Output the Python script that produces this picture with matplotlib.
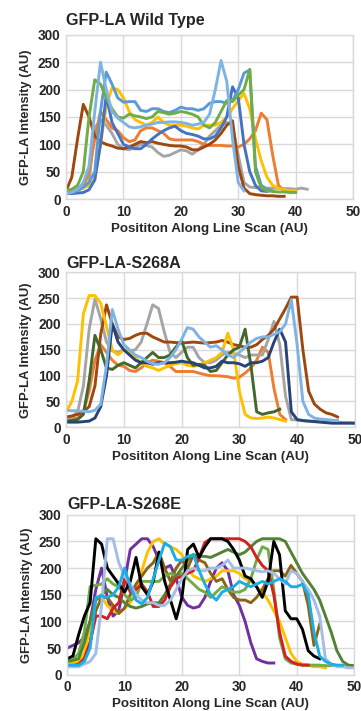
import numpy as np
import matplotlib
matplotlib.use("Agg")
import matplotlib.pyplot as plt

plt.rcParams['font.family'] = ['Liberation Sans', 'DejaVu Sans']
plt.rcParams['font.weight'] = 'bold'

# ---- data: intensities along each line scan (x = 0, 1, 2, ...) ----
# Wild type
wt_brown = [15, 40, 110, 173, 150, 115, 105, 100, 97, 93, 92, 95, 100, 105, 103, 105, 102, 100, 98, 97,
            97, 95, 90, 90, 95, 100, 108, 120, 135, 143, 60, 20, 10, 8, 7, 6, 6, 5, 5]
wt_green = [15, 18, 25, 50, 150, 218, 210, 185, 165, 150, 148, 155, 152, 150, 147, 150, 160, 158, 155, 157,
            160, 158, 155, 150, 135, 130, 140, 160, 180, 178, 190, 200, 237, 50, 20, 15, 14, 13, 13, 12, 12]
wt_lblue = [10, 12, 18, 30, 60, 160, 250, 200, 160, 148, 140, 132, 130, 132, 135, 137, 140, 140, 141, 141,
            140, 138, 135, 137, 140, 155, 200, 253, 215, 110, 30, 15]
wt_mblue = [10, 12, 15, 22, 30, 50, 160, 232, 210, 185, 177, 178, 178, 162, 160, 165, 165, 160, 158, 162,
            168, 165, 165, 162, 165, 175, 178, 178, 175, 180, 200, 230, 236, 60, 25, 18, 15]
wt_blue = [10, 10, 11, 12, 17, 35, 100, 190, 140, 120, 100, 95, 92, 92, 100, 110, 118, 125, 130, 133,
           125, 120, 118, 115, 110, 110, 115, 130, 150, 205, 185, 100, 50, 25, 15, 14]
wt_yellow = [12, 14, 17, 20, 25, 35, 100, 170, 203, 200, 185, 160, 145, 140, 135, 140, 150, 140, 135, 135,
             135, 133, 130, 128, 135, 135, 135, 140, 150, 165, 180, 193, 165, 110, 70, 40, 25, 20, 17, 15, 15]
wt_orange = [15, 17, 18, 20, 50, 110, 160, 145, 130, 125, 112, 105, 108, 125, 130, 130, 125, 120, 110, 108,
             108, 108, 108, 105, 100, 98, 98, 98, 97, 97, 95, 100, 110, 125, 157, 145, 80, 25, 15, 14]
wt_gray = [15, 16, 18, 22, 30, 130, 145, 135, 120, 100, 92, 90, 95, 100, 98, 95, 85, 78, 80, 85,
           90, 88, 82, 90, 100, 115, 125, 135, 140, 135, 80, 30, 22, 21, 20, 20, 20, 20, 19, 19, 18, 20, 18]

# S268A
a_yellow = [30, 50, 90, 220, 255, 255, 240, 195, 150, 140, 150, 145, 135, 125, 118, 115, 110, 115, 120, 123,
            125, 120, 118, 120, 125, 130, 135, 145, 182, 150, 70, 25, 18, 17, 18, 20, 18, 15, 12]
a_gray = [15, 20, 30, 80, 190, 248, 210, 165, 148, 145, 150, 148, 150, 165, 200, 237, 230, 185, 145, 135,
          145, 155, 155, 135, 125, 125, 130, 140, 145, 143, 140, 135, 140, 140, 140, 170, 205, 160, 60, 15,
          14, 13, 12, 12, 11, 11, 10, 10, 9, 9, 8]
a_brown = [20, 22, 25, 30, 40, 80, 180, 237, 200, 175, 170, 172, 178, 182, 182, 175, 170, 165, 165, 164,
           163, 164, 165, 164, 163, 164, 165, 168, 165, 160, 158, 155, 155, 160, 170, 178, 190, 210, 230, 252,
           252, 150, 70, 45, 35, 28, 25, 20]
a_green = [12, 13, 15, 25, 90, 178, 150, 115, 112, 120, 125, 120, 115, 125, 135, 145, 135, 135, 140, 155,
           168, 135, 120, 122, 120, 108, 110, 125, 140, 150, 155, 190, 120, 30, 25, 28, 30, 35]
a_dblue = [10, 10, 10, 11, 12, 18, 40, 100, 200, 165, 150, 140, 130, 125, 125, 122, 125, 125, 125, 126,
           128, 126, 125, 120, 115, 115, 118, 128, 125, 125, 123, 118, 125, 125, 128, 135, 165, 190, 165, 30,
           15, 13, 12, 11, 10, 9, 8, 8, 8, 8, 8]
a_lblue = [33, 32, 32, 31, 30, 33, 45, 120, 228, 190, 160, 150, 140, 135, 128, 123, 122, 125, 135, 150,
           170, 193, 190, 175, 165, 155, 158, 150, 140, 135, 145, 155, 165, 172, 175, 175, 180, 185, 200, 247,
           160, 50, 25, 18, 16, 15, 14, 13]
a_orange = [15, 17, 18, 30, 70, 130, 160, 145, 130, 120, 118, 110, 108, 115, 125, 130, 128, 125, 118, 108,
            108, 108, 108, 105, 102, 100, 100, 99, 98, 95, 97, 105, 115, 130, 155, 145, 75, 25, 15]

# S268E
e_black = [30, 35, 75, 110, 135, 255, 245, 200, 185, 170, 155, 175, 220, 165, 150, 175, 230, 175, 140, 105,
           145, 235, 245, 220, 240, 255, 255, 255, 250, 235, 215, 185, 180, 165, 145, 175, 250, 225, 120, 105,
           105, 85, 45, 35, 30]
e_peri = [15, 15, 15, 20, 25, 40, 130, 255, 255, 210, 185, 170, 150, 140, 135, 135, 130, 130, 140, 160,
          180, 195, 200, 195, 195, 200, 200, 205, 215, 200, 200, 200, 198, 195, 193, 195, 190, 180, 170, 195,
          190, 175, 160, 140, 110, 30, 20, 15, 15, 13, 13]
e_purple = [50, 55, 60, 70, 100, 160, 200, 145, 110, 120, 175, 235, 245, 255, 255, 240, 215, 200, 205, 180,
            145, 130, 125, 128, 145, 175, 200, 210, 195, 150, 130, 100, 60, 30, 25, 22, 22]
e_yellow = [20, 22, 25, 40, 90, 140, 145, 130, 120, 115, 125, 135, 155, 195, 230, 250, 255, 245, 240, 235,
            225, 200, 185, 180, 175, 180, 185, 195, 195, 195, 190, 180, 175, 165, 155, 140, 120, 100, 70, 40,
            25, 20, 18, 15, 15, 13]
e_olive = [15, 16, 18, 30, 60, 120, 145, 145, 130, 115, 125, 150, 170, 185, 200, 210, 230, 200, 175, 200,
           215, 200, 225, 215, 210, 190, 175, 180, 160, 145, 140, 140, 135, 145, 160, 180, 195, 195, 185, 205,
           190, 175, 130, 55, 95]
e_lgreen = [25, 28, 40, 80, 165, 168, 170, 180, 170, 165, 150, 140, 145, 175, 175, 175, 175, 185, 190, 185,
            190, 180, 170, 160, 155, 145, 155, 165, 160, 155, 155, 160, 180, 215, 240, 235, 160, 70, 30, 22,
            20, 18, 18, 18, 18, 17, 17, 17, 17, 17, 17]
e_dgreen = [25, 27, 30, 60, 100, 140, 150, 160, 150, 145, 135, 128, 125, 128, 133, 135, 135, 150, 170, 185,
            200, 215, 225, 222, 222, 220, 225, 230, 235, 230, 225, 230, 240, 250, 255, 255, 255, 255, 250, 230,
            210, 190, 175, 160, 140, 110, 80, 45, 25, 18, 17]
e_red = [15, 17, 20, 30, 60, 110, 110, 105, 125, 135, 180, 155, 160, 170, 155, 128, 128, 140, 165, 180,
         185, 190, 195, 220, 248, 255, 255, 255, 255, 255, 255, 250, 240, 220, 205, 195, 150, 80, 35, 25,
         20, 18, 18]
e_cyan = [18, 18, 18, 25, 50, 145, 148, 145, 150, 165, 200, 165, 140, 133, 145, 180, 215, 247, 240, 215,
          215, 222, 225, 195, 170, 150, 140, 155, 160, 165, 175, 170, 165, 170, 175, 170, 175, 180, 175, 165,
          165, 170, 150, 80, 35, 25, 20, 18, 18]

panels = [
    ("GFP-LA Wild Type", [
        (wt_gray, '#A5A5A5'), (wt_orange, '#ED7D31'), (wt_brown, '#9E480E'), (wt_yellow, '#FFC000'),
        (wt_blue, '#4472C4'), (wt_mblue, '#5B9BD5'), (wt_green, '#70AD47'), (wt_lblue, '#7FB3E3'),
    ]),
    ("GFP-LA-S268A", [
        (a_orange, '#ED7D31'), (a_gray, '#A5A5A5'), (a_brown, '#9E480E'), (a_yellow, '#FFC000'),
        (a_green, '#43682B'), (a_dblue, '#264478'), (a_lblue, '#7FB3E3'),
    ]),
    ("GFP-LA-S268E", [
        (e_purple, '#7030A0'), (e_yellow, '#FFC000'), (e_olive, '#8C6418'), (e_lgreen, '#70AD47'),
        (e_dgreen, '#548235'), (e_red, '#D42020'), (e_black, '#000000'), (e_peri, '#A4BDE6'),
        (e_cyan, '#1CADE4'),
    ]),
]

# axes boxes in figure fraction (left, bottom, width, height)
boxes = [
    (0.183, 0.720, 0.795, 0.231),
    (0.183, 0.399, 0.800, 0.218),
    (0.186, 0.051, 0.795, 0.225),
]
title_pads = [7, 3, 4]
text_col = '#262626'

fig = plt.figure(figsize=(3.61, 7.11), dpi=100)

for (title, series), box, tpad in zip(panels, boxes, title_pads):
    ax = fig.add_axes(box)
    for vals, color in series:
        ax.plot(np.arange(len(vals)), vals, color=color, lw=2.1, solid_joinstyle='round')
    ax.set_xlim(0, 50)
    ax.set_ylim(0, 300)
    ax.set_xticks(range(0, 51, 10))
    ax.set_yticks(range(0, 301, 50))
    ax.grid(True, color='#D9D9D9', lw=1.0)
    ax.set_axisbelow(True)
    for sp in ax.spines.values():
        sp.set_color('#D9D9D9')
        sp.set_linewidth(1.0)
    ax.tick_params(length=0, labelsize=9.8, pad=4, colors=text_col)
    for lab in ax.get_xticklabels() + ax.get_yticklabels():
        lab.set_fontweight('bold')
    ax.set_title(title, loc='left', fontsize=11.6, fontweight='bold', pad=tpad, color=text_col)
    ax.set_ylabel("GFP-LA Intensity (AU)", fontsize=9.4, fontweight='bold', color=text_col, labelpad=4)
    ax.set_xlabel("Posititon Along Line Scan (AU)", fontsize=9.6, fontweight='bold', color=text_col,
                  labelpad=3)

fig.savefig("out.png", dpi=100)
